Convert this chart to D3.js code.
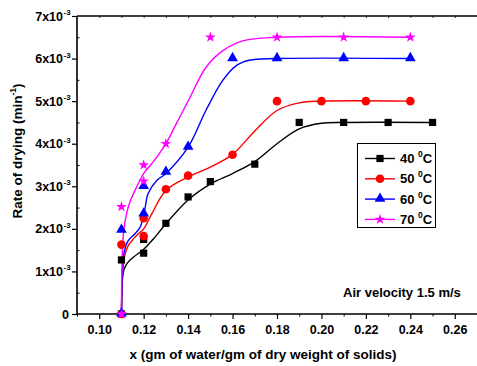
<!DOCTYPE html>
<html>
<head>
<meta charset="utf-8">
<script src="https://cdn.jsdelivr.net/npm/d3@7"></script>
<style>
  body { margin: 0; background: #fff; }
  text { font-family: "Liberation Sans", Arial, sans-serif; font-weight: bold; }
</style>
</head>
<body>
<script>
(function (d3) {
  "use strict";

  /***** Data (x in gm/gm, rate in 1e-3 min^-1) *****/
  var temps = ["40", "50", "60", "70"];
  var colors = ["#000000", "#ff0000", "#0000ff", "#ff00ff"];
  var shapes = ["square", "circle", "triangle", "star"];

  var pts40x = [0.11, 0.11, 0.12, 0.12, 0.13, 0.14, 0.15, 0.17, 0.19, 0.21, 0.23, 0.25];
  var pts40y = [0, 1.27, 1.43, 1.75, 2.13, 2.75, 3.11, 3.52, 4.5, 4.5, 4.5, 4.5];
  var pts50x = [0.11, 0.11, 0.12, 0.12, 0.13, 0.14, 0.16, 0.18, 0.20, 0.22, 0.24];
  var pts50y = [0, 1.63, 1.83, 2.25, 2.93, 3.25, 3.74, 5.0, 5.0, 5.0, 5.0];
  var pts60x = [0.11, 0.11, 0.12, 0.12, 0.13, 0.14, 0.16, 0.18, 0.21, 0.24];
  var pts60y = [0, 1.97, 2.35, 3.0, 3.33, 3.92, 6.0, 6.0, 6.0, 6.0];
  var pts70x = [0.11, 0.11, 0.12, 0.12, 0.13, 0.15, 0.18, 0.21, 0.24];
  var pts70y = [0, 2.52, 3.12, 3.5, 4.0, 6.5, 6.5, 6.5, 6.5];

  // fitted curves
  var fit40x = [0.11, 0.1102, 0.1105, 0.1112, 0.1127, 0.1155, 0.12, 0.125, 0.13, 0.14, 0.15, 0.16, 0.17, 0.18, 0.19, 0.20, 0.21, 0.25];
  var fit40y = [0, 0.5, 0.85, 1.05, 1.2, 1.34, 1.52, 1.8, 2.12, 2.68, 3.05, 3.3, 3.58, 4.0, 4.35, 4.48, 4.5, 4.5];
  var fit50x = [0.11, 0.1102, 0.1105, 0.1112, 0.113, 0.1155, 0.1175, 0.12, 0.1237, 0.13, 0.14, 0.15, 0.16, 0.17, 0.18, 0.19, 0.20, 0.24];
  var fit50y = [0, 0.5, 0.95, 1.3, 1.6, 1.77, 1.88, 2.0, 2.36, 2.9, 3.22, 3.45, 3.75, 4.3, 4.78, 4.96, 5.0, 5.0];
  var fit60x = [0.11, 0.1102, 0.1105, 0.1112, 0.113, 0.116, 0.1185, 0.1205, 0.122, 0.126, 0.13, 0.14, 0.148, 0.1555, 0.1615, 0.1675, 0.18, 0.24];
  var fit60y = [0, 0.6, 1.1, 1.45, 1.72, 1.88, 2.05, 2.45, 2.83, 3.14, 3.3, 3.92, 4.78, 5.48, 5.83, 5.96, 6.0, 6.0];
  var fit70x = [0.11, 0.1101, 0.1104, 0.111, 0.1125, 0.1141, 0.117, 0.12, 0.125, 0.13, 0.135, 0.14, 0.148, 0.1555, 0.165, 0.18, 0.24];
  var fit70y = [0, 0.7, 1.4, 1.95, 2.4, 2.67, 3.0, 3.3, 3.62, 4.0, 4.5, 5.0, 5.79, 6.18, 6.42, 6.5, 6.5];

  var ptsX = [pts40x, pts50x, pts60x, pts70x];
  var ptsY = [pts40y, pts50y, pts60y, pts70y];
  var fitX = [fit40x, fit50x, fit60x, fit70x];
  var fitY = [fit40y, fit50y, fit60y, fit70y];

  var xTicks = [0.10, 0.12, 0.14, 0.16, 0.18, 0.20, 0.22, 0.24, 0.26];
  var yTicks = [0, 1, 2, 3, 4, 5, 6, 7];

  /***** Configuration *****/
  var W = 477, H = 366;
  var left = 77, top = 16, right = 477, bottom = 314;

  var x = d3.scaleLinear().domain([0.09, 0.27]).range([left, right]);
  var y = d3.scaleLinear().domain([0, 7]).range([bottom, top]);

  var svg = d3.select("body").append("svg")
    .attr("width", W).attr("height", H);

  /***** Axes *****/
  var xAxis = svg.append("g").attr("transform", "translate(0," + bottom + ")")
    .call(d3.axisBottom(x).tickValues(xTicks).tickFormat(d3.format(".2f")).tickSizeInner(5).tickSizeOuter(0));
  xAxis.select(".domain").remove();
  xAxis.selectAll("line").attr("stroke-width", 1.2);
  xAxis.selectAll("text").attr("font-size", 12.5).attr("dy", "0").attr("y", 20).attr("fill", "#000");
  svg.append("g").attr("transform", "translate(0," + bottom + ")")
    .call(d3.axisBottom(x).tickValues(d3.range(0.09, 0.275, 0.02)).tickSize(2.5).tickFormat(""))
    .call(function (g) { g.select(".domain").remove(); g.selectAll("line").attr("stroke-width", 1); });

  var yAxis = svg.append("g").attr("transform", "translate(" + left + ",0)")
    .call(d3.axisLeft(y).tickValues(yTicks).tickSizeInner(5).tickSizeOuter(0).tickFormat(""));
  yAxis.select(".domain").remove();
  yAxis.selectAll("line").attr("stroke-width", 1.2);
  svg.append("g").attr("transform", "translate(" + left + ",0)")
    .call(d3.axisRight(y).tickValues(d3.range(0.5, 7, 1)).tickSize(2.5).tickFormat(""))
    .call(function (g) { g.select(".domain").remove(); g.selectAll("line").attr("stroke-width", 1); });

  // y tick labels with powers of ten
  var yl = svg.append("g").selectAll("text").data(yTicks).enter().append("text")
    .attr("x", function (d) { return d === 0 ? 69 : 63; })
    .attr("y", function (d) { return y(d) + 4.5; })
    .attr("text-anchor", "end").attr("font-size", 12.5);
  yl.each(function (d) {
    var t = d3.select(this);
    if (d === 0) { t.text("0"); return; }
    t.append("tspan").text(d + "x10");
  });
  svg.append("g").selectAll("text").data(yTicks.filter(function (d) { return d > 0; })).enter().append("text")
    .attr("x", 63.5).attr("y", function (d) { return y(d) - 1; })
    .attr("font-size", 8).text("-3");

  // top axis line with small ticks
  svg.append("line").attr("x1", left).attr("x2", right).attr("y1", top).attr("y2", top)
    .attr("stroke", "#000").attr("stroke-width", 1.6);
  svg.append("g").attr("transform", "translate(0," + top + ")")
    .call(d3.axisBottom(x).tickValues(d3.range(0.1, 0.275, 0.01)).tickSize(2).tickFormat(""))
    .call(function (g) { g.select(".domain").remove(); g.selectAll("line").attr("stroke-width", 0.8); });
  // frame
  svg.append("line").attr("x1", left).attr("x2", right).attr("y1", bottom).attr("y2", bottom)
    .attr("stroke", "#000").attr("stroke-width", 1.6);
  svg.append("line").attr("x1", left).attr("x2", left).attr("y1", top).attr("y2", bottom)
    .attr("stroke", "#000").attr("stroke-width", 1.6);

  /***** Axis titles *****/
  svg.append("text").attr("x", 263).attr("y", 359).attr("text-anchor", "middle")
    .attr("font-size", 13.5).text("x (gm of water/gm of dry weight of solids)");
  var yt = svg.append("text").attr("transform", "translate(22,151) rotate(-90)")
    .attr("text-anchor", "middle").attr("font-size", 13.5);
  yt.append("tspan").text("Rate of drying (min");
  yt.append("tspan").attr("font-size", 8.5).attr("dy", -6).text("-1");
  yt.append("tspan").attr("dy", 6).text(")");

  svg.append("text").attr("x", 343).attr("y", 297).attr("font-size", 13).text("Air velocity 1.5 m/s");

  /***** Curves and markers *****/
  var line = d3.line().x(function (d) { return x(d[0]); }).y(function (d) { return y(d[1]); })
    .curve(d3.curveCatmullRom.alpha(0.5));

  function marker(sel, shape, color) {
    if (shape === "square") {
      sel.append("rect").attr("x", -3.6).attr("y", -3.6).attr("width", 7.2).attr("height", 7.2).attr("fill", color);
    } else if (shape === "circle") {
      sel.append("circle").attr("r", 4.3).attr("fill", color);
    } else if (shape === "triangle") {
      sel.append("path").attr("d", d3.symbol(d3.symbolTriangle, 50)()).attr("transform", "translate(0,-0.5)").attr("fill", color);
    } else {
      sel.append("path").attr("d", d3.symbol(d3.symbolStar, 36)()).attr("fill", color);
    }
  }

  var plot = svg.append("g");
  temps.forEach(function (t, i) {
    var fit = fitX[i].map(function (v, k) { return [v, fitY[i][k]]; });
    plot.append("path").datum(fit).attr("d", line)
      .attr("fill", "none").attr("stroke", colors[i]).attr("stroke-width", 1.4);
  });
  temps.forEach(function (t, i) {
    var pts = ptsX[i].map(function (v, k) { return [v, ptsY[i][k]]; });
    plot.append("g").selectAll("g").data(pts).enter().append("g")
      .attr("transform", function (d) { return "translate(" + x(d[0]) + "," + y(d[1]) + ")"; })
      .each(function () { marker(d3.select(this), shapes[i], colors[i]); });
  });

  /***** Legend *****/
  var lg = svg.append("g");
  lg.append("rect").attr("x", 357.5).attr("y", 143.5).attr("width", 78).attr("height", 84)
    .attr("fill", "#fff").attr("stroke", "#000").attr("stroke-width", 1);
  temps.forEach(function (t, i) {
    var ly = 158.5 + i * 20.3;
    var g = lg.append("g");
    g.append("line").attr("x1", 365).attr("x2", 395).attr("y1", ly).attr("y2", ly)
      .attr("stroke", colors[i]).attr("stroke-width", 1.4);
    var m = g.append("g").attr("transform", "translate(380," + ly + ")");
    marker(m, shapes[i], colors[i]);
    var tx = g.append("text").attr("x", 400).attr("y", ly + 4.5).attr("font-size", 13);
    tx.append("tspan").text(t + " ");
    tx.append("tspan").attr("font-size", 8.5).attr("dy", -6).text("0");
    tx.append("tspan").attr("dy", 6).text("C");
  });

})(d3);
</script>
</body>
</html>
